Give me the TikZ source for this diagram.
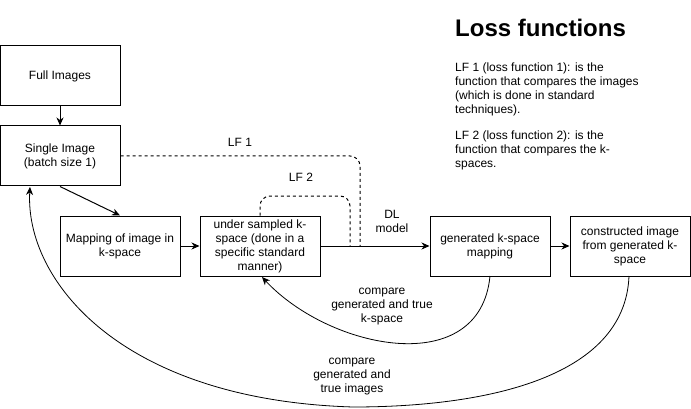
\documentclass[tikz,border=0pt]{standalone}
\usepackage{fontspec}
\setmainfont{Liberation Sans}
\usetikzlibrary{arrows.meta}
\newcommand\lblfont{\fontsize{12}{14}\selectfont}
\begin{document}
\begin{tikzpicture}[x=1pt,y=-1pt,
  box/.style={draw, line width=1pt, minimum width=120pt, minimum height=60pt, inner sep=0pt, align=center, font=\lblfont},
  arr/.style={line width=1pt, -{Stealth[length=8pt,width=7pt,inset=2.5pt]}},
  curvearr/.style={line width=0.8pt, -{Stealth[length=8pt,width=7pt,inset=2.5pt]}},
  dashline/.style={line width=1pt, dash pattern=on 3pt off 3pt},
  lbl/.style={inner sep=0pt, align=center, font=\lblfont},
  para/.style={inner sep=0pt, align=left, anchor=north west, font=\lblfont}]
\useasboundingbox (0,0) rectangle (691,409);

\node[box] (full) at (60,76) {Full Images};
\node[box] (single) at (60,156) {Single Image\\(batch size 1)};
\node[box] (map) at (120,246) {Mapping of image in\\k-space};
\node[box] (under) at (260,246) {under sampled k-\\space (done in a\\specific standard\\manner)};
\node[box] (gen) at (490,246) {generated k-space\\mapping};
\node[box] (cons) at (630,246) {constructed image\\from generated k-\\space};

\coordinate (j1) at (360,246);
\coordinate (j2) at (350,246);
\coordinate (c1) at (629,276);
\coordinate (c2) at (490,276);
\coordinate (bot) at (353,407);

\draw[arr] (full) -- (single);
\draw[arr] (single.south) -- (map.north);
\draw[arr] (map) -- (under);
\draw[arr] (under) -- (gen);
\draw[arr] (gen) -- (cons);

\draw[dashline, rounded corners=10pt] (single.east) -- (j1 |- single.east) -- (j1);
\draw[dashline, rounded corners=10pt] (under.north) -- (260,196) -- (350,196) -- (j2);

\draw[curvearr] (c2) .. controls (480,380) and (330,350) .. (262,277);
\draw[curvearr] (c1) .. controls (625,380) and (480,407) .. (bot)
  .. controls (120,400) and (25,280) .. (30,187);

\node[lbl] (dl) at (392,221) {DL\\model};
\node[lbl] (lf1) at (240,142) {LF 1};
\node[lbl] (lf2) at (301,177) {LF 2};
\node[lbl] (ck) at (382,307) {compare\\generated and true\\k-space};
\node[lbl] (ci) at (352,377) {compare\\generated and\\true images};

\node[inner sep=0pt, anchor=base west, font=\fontsize{24}{28}\selectfont\bfseries] (title) at (455,37) {Loss functions};
\node[para] (p1) at (455,63) {LF 1 (loss function 1): is the\\function that compares the images\\(which is done in standard\\techniques).};
\node[para] (p2) at (455,131) {LF 2 (loss function 2): is the\\function that compares the k-\\spaces.};
\end{tikzpicture}
\end{document}
